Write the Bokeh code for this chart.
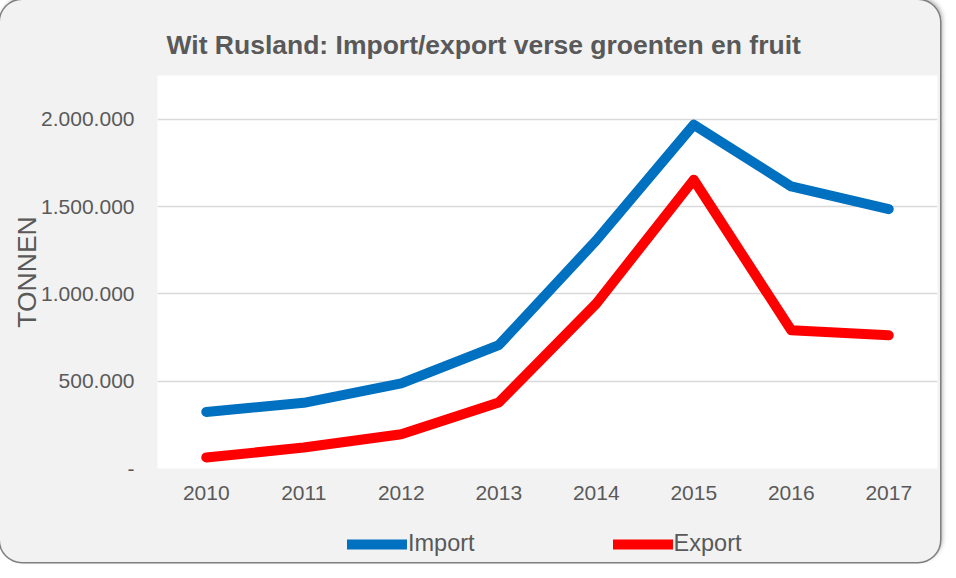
from bokeh.plotting import figure
from bokeh.layouts import column
from bokeh.models import (FactorRange, Range1d, FixedTicker, Legend, LegendItem,
                          ColumnDataSource)
from bokeh.embed import file_html
from bokeh.resources import INLINE

# ---- data ----
years = ["2010", "2011", "2012", "2013", "2014", "2015", "2016", "2017"]
import_tonnes = [324000, 376000, 487000, 706000, 1306000, 1968000, 1615000, 1485000]
export_tonnes = [63000, 120000, 196000, 378000, 944000, 1653000, 791000, 763000]
y_ticks = [0, 500000, 1000000, 1500000, 2000000]
y_tick_labels = ["-", "500.000", "1.000.000", "1.500.000", "2.000.000"]
title_text = "Wit Rusland: Import/export verse groenten en fruit"
y_label = "TONNEN"
series_names = ["Import", "Export"]
series_colors = ["#0070C0", "#FF0000"]

FONT = "Liberation Sans"
TXT = "#595959"

src = ColumnDataSource(dict(year=years, imp=import_tonnes, exp=export_tonnes))

# ---- main chart ----
p = figure(
    width=940, height=506,
    x_range=FactorRange(*years, range_padding=0),
    y_range=Range1d(0, 2250000),
    output_backend="svg", toolbar_location=None,
    min_border_left=157, min_border_right=3, min_border_top=75, min_border_bottom=38,
)
p.background_fill_color = "white"
p.border_fill_color = None
p.outline_line_color = None

p.title.text = title_text
p.title.text_font = FONT
p.title.text_font_size = "26.5px"
p.title.text_font_style = "bold"
p.title.text_color = TXT
p.title.align = "left"
p.title.offset = 9
p.title.standoff = 32

p.xaxis.axis_line_color = None
p.yaxis.axis_line_color = None
p.xaxis.major_tick_line_color = None
p.yaxis.major_tick_line_color = None
p.xaxis.minor_tick_line_color = None
p.yaxis.minor_tick_line_color = None
p.xaxis.major_label_text_font = FONT
p.yaxis.major_label_text_font = FONT
p.xaxis.major_label_text_font_size = "21px"
p.yaxis.major_label_text_font_size = "21px"
p.xaxis.major_label_text_color = TXT
p.yaxis.major_label_text_color = TXT
p.xaxis.major_label_standoff = 11
p.yaxis.major_label_standoff = 17
p.yaxis.ticker = FixedTicker(ticks=y_ticks)
p.yaxis.major_label_overrides = {t: l for t, l in zip(y_ticks, y_tick_labels)}
p.yaxis.axis_label = y_label
p.yaxis.axis_label_text_font = FONT
p.yaxis.axis_label_text_font_size = "26.5px"
p.yaxis.axis_label_text_font_style = "normal"
p.yaxis.axis_label_text_color = TXT
p.yaxis.axis_label_standoff = -4

p.xgrid.grid_line_color = None
p.ygrid.ticker = FixedTicker(ticks=y_ticks)
p.ygrid.grid_line_color = "#d9d9d9"
p.ygrid.grid_line_width = 1.5

p.line("year", "imp", source=src, line_color=series_colors[0], line_width=10,
       line_cap="round", line_join="round")
p.line("year", "exp", source=src, line_color=series_colors[1], line_width=10,
       line_cap="round", line_join="round")

# ---- legend strip (its key lines lie outside its view, only the legend shows) ----
q = figure(
    width=940, height=56,
    x_range=Range1d(0, 1), y_range=Range1d(0, 1),
    output_backend="svg", toolbar_location=None,
    x_axis_type=None, y_axis_type=None, min_border=0,
)
q.background_fill_color = None
q.border_fill_color = None
q.outline_line_color = None
q.grid.visible = False
k_imp = q.line(x="imp", y="imp", source=src, line_color=series_colors[0],
               line_width=10, line_cap="round")
k_exp = q.line(x="exp", y="exp", source=src, line_color=series_colors[1],
               line_width=10, line_cap="round")

legend = Legend(
    items=[LegendItem(label=series_names[0], renderers=[k_imp]),
           LegendItem(label=series_names[1], renderers=[k_exp])],
    orientation="horizontal",
    location=(190, 5),
    glyph_width=60, glyph_height=20,
    label_standoff=1, spacing=138, padding=0, margin=0,
    label_text_font=FONT, label_text_font_size="23.5px", label_text_color=TXT,
    border_line_color=None, background_fill_alpha=0,
)
q.add_layout(legend, "center")

card = column(p, q, spacing=0, styles={
    "background-color": "#f2f2f2",
    "border-radius": "22px",
    "box-shadow": "0 0 0 1.5px #7f7f7f, 2px -2px 5px rgba(0,0,0,0.35)",
})

open("out.html", "w").write(file_html(card, INLINE))
